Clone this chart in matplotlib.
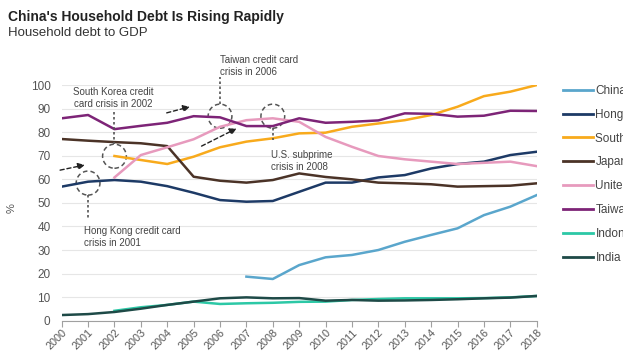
import matplotlib
matplotlib.use('Agg')
import matplotlib.pyplot as plt
from matplotlib.patches import Ellipse
import numpy as np

plt.rcParams['font.family'] = ['Liberation Sans', 'DejaVu Sans']

years = list(range(2000, 2019))

china = [None] * 7 + [18.7, 17.7, 23.6, 26.9, 27.9, 30.0, 33.5, 36.4, 39.2, 44.8, 48.4, 53.3]
hong_kong = [56.9, 59.0, 59.7, 59.0, 57.1, 54.3, 51.2, 50.5, 50.8, 54.7, 58.6, 58.6,
             60.8, 61.8, 64.6, 66.5, 67.5, 70.3, 71.7]
south_korea = [None] * 2 + [69.9, 68.2, 66.5, 69.6, 73.6, 76.0, 77.4, 79.5, 79.8, 82.3,
                            83.7, 85.1, 87.3, 90.8, 95.3, 97.2, 100.0]
japan = [77.1, 76.4, 75.8, 75.3, 74.1, 61.1, 59.4, 58.6, 59.7, 62.5, 61.0, 60.0,
         58.6, 58.3, 57.9, 56.9, 57.1, 57.3, 58.3]
united_states = [None] * 2 + [60.8, 70.3, 73.6, 77.0, 82.3, 85.1, 85.9, 84.4, 78.0, 73.8,
                              69.9, 68.5, 67.5, 66.5, 67.0, 67.5, 65.6]
taiwan = [85.9, 87.3, 81.3, 82.7, 84.0, 86.8, 86.3, 82.6, 82.6, 85.9, 84.0, 84.4,
          85.0, 88.0, 87.8, 86.6, 87.0, 89.1, 89.0]
indonesia = [None] * 2 + [4.2, 5.7, 6.7, 8.1, 7.1, 7.4, 7.6, 8.0, 8.1, 8.8,
                          9.2, 9.5, 9.5, 9.5, 9.6, 9.9, 10.5]
india = [2.4, 2.8, 3.7, 5.1, 6.7, 8.1, 9.5, 9.9, 9.5, 9.6, 8.5, 8.8,
         8.5, 8.6, 8.8, 9.1, 9.5, 9.8, 10.5]

series = [
    ('China', china, '#5aa6cc'),
    ('Hong Kong', hong_kong, '#1d3a66'),
    ('South Korea', south_korea, '#f8aa1c'),
    ('Japan', japan, '#4b3327'),
    ('United States', united_states, '#e79abd'),
    ('Taiwan', taiwan, '#7d2477'),
    ('Indonesia', indonesia, '#2cc8a6'),
    ('India', india, '#1e4a47'),
]

fig = plt.figure(figsize=(6.23, 3.53), dpi=100)
ax = fig.add_axes([0.099, 0.0915, 0.7625, 0.6675])

for name, vals, color in series:
    v = np.array([np.nan if x is None else x for x in vals], dtype=float)
    ax.plot(years, v, color=color, lw=1.8, label=name)

ax.set_xlim(2000, 2018)
ax.set_ylim(0, 100)
ax.set_yticks(range(0, 101, 10))
ax.set_xticks(years)
ax.set_xticklabels([str(y) for y in years], rotation=45, ha='right', rotation_mode='anchor')
ax.grid(axis='y', color='#e6e6e6', lw=0.8)
ax.set_axisbelow(True)
for s in ['top', 'right', 'left']:
    ax.spines[s].set_visible(False)
ax.spines['bottom'].set_color('#a0a0a0')
ax.tick_params(axis='y', length=0, labelsize=8.5, colors='#555555', pad=8)
ax.tick_params(axis='x', length=4, color='#a0a0a0', labelsize=7.8, labelcolor='#555555', pad=1)
fig.text(12 / 623, 1 - 208 / 353, '%', rotation=90, color='#555555', fontsize=8,
         ha='center', va='center')

txt = dict(fontsize=7, color='#444444')
dot = dict(color='#555555', lw=1.2, ls=(0, (1.5, 1.5)), clip_on=False)

# crisis circles
for cx, cy in [(2001, 58.4), (2002, 69.8), (2006, 86.8), (2008, 86.8)]:
    ax.add_patch(Ellipse((cx, cy), 0.9, 10.2, fill=False, ec='#555555', lw=1.1,
                         ls=(0, (3, 2)), clip_on=False))

ax.plot([2001, 2001], [53.3, 42.7], **dot)
ax.plot([2002, 2002], [88.5, 74.9], **dot)
ax.plot([2006, 2006], [92.0, 103.5], **dot)
ax.plot([2008, 2008], [81.8, 76.7], **dot)

ax.text(2000.85, 35.5, 'Hong Kong credit card\ncrisis in 2001', ha='left', va='center', linespacing=1.3, **txt)
ax.text(2001.95, 94.4, 'South Korea credit\ncard crisis in 2002', ha='center', va='center', linespacing=1.3, **txt)
ax.text(2006.0, 108.0, 'Taiwan credit card\ncrisis in 2006', ha='left', va='center', linespacing=1.3, clip_on=False, **txt)
ax.text(2007.95, 67.8, 'U.S. subprime\ncrisis in 2008', ha='left', va='center', linespacing=1.3, **txt)

# arrows
for (x0, y0), (x1, y1) in [((1999.94, 63.9), (2000.88, 66.1)),
                           ((2003.98, 88.2), (2004.86, 90.8)),
                           ((2005.30, 74.1), (2006.63, 81.6))]:
    ax.annotate('', xy=(x1, y1), xytext=(x0, y0), annotation_clip=False,
                arrowprops=dict(arrowstyle='-|>', color='#222222', lw=1.0,
                                ls=(0, (3, 2)), mutation_scale=10, shrinkA=0, shrinkB=0))

fig.text(8 / 623, 1 - 17 / 353, "China's Household Debt Is Rising Rapidly", fontsize=10,
         fontweight='bold', color='#222222', va='center', ha='left')
fig.text(8 / 623, 1 - 33 / 353, 'Household debt to GDP', fontsize=9.5, color='#333333',
         va='center', ha='left')

leg = ax.legend(loc='upper left', bbox_to_anchor=(563 / 623, 1 - 85 / 353),
                bbox_transform=fig.transFigure, frameon=False, fontsize=8.5,
                handlelength=2.5, handletextpad=0.25, labelspacing=1.0,
                borderaxespad=0, borderpad=0)
for t in leg.get_texts():
    t.set_color('#444444')
for l in leg.get_lines():
    l.set_linewidth(2.0)

fig.savefig('out.png', dpi=100)
